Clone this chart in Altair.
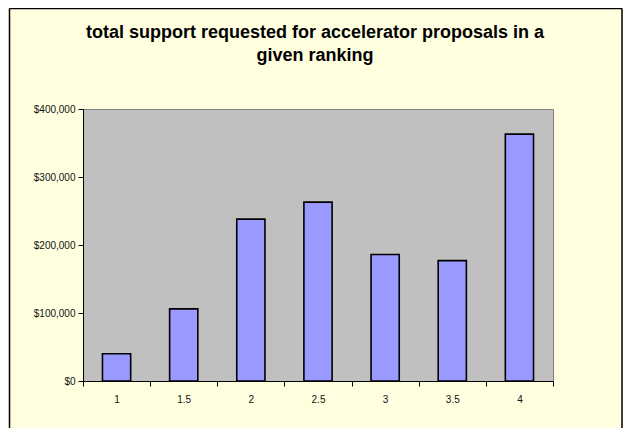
import altair as alt
import pandas as pd

rankings = ["1", "1.5", "2", "2.5", "3", "3.5", "4"]
support = [40000, 106000, 238000, 263000, 186000, 177000, 363000]
y_ticks = [0, 100000, 200000, 300000, 400000]

df = pd.DataFrame({"ranking": rankings, "support": support})

FONT = "Liberation Sans"

bars = alt.Chart(df).mark_bar(
    fill="#9999FF", stroke="#000000", strokeWidth=1.6,
    width=alt.RelativeBandSize(0.42)
).encode(
    x=alt.X("ranking:N", sort=rankings, title=None,
            scale=alt.Scale(paddingInner=0, paddingOuter=0),
            axis=alt.Axis(labelAngle=0, tickBand="extent", tickSize=5,
                          tickColor="#000000", domainColor="#000000",
                          labelFontSize=10, labelFont=FONT, labelColor="#111111",
                          labelPadding=8, grid=False)),
    y=alt.Y("support:Q", title=None,
            scale=alt.Scale(domain=[0, 400000], nice=False),
            axis=alt.Axis(values=y_ticks, format="$,.0f", tickSize=5,
                          tickColor="#000000", domainColor="#000000",
                          labelFontSize=10, labelFont=FONT, labelColor="#111111",
                          labelPadding=3, grid=False))
)

frame_data = alt.Data(values=[{"k": 0}])
left = alt.Chart(frame_data).mark_rule(color="#000000", strokeWidth=1.5).encode(
    x=alt.value(-73.5), y=alt.value(-100.5), y2=alt.value(330))
top = alt.Chart(frame_data).mark_rule(color="#000000", strokeWidth=1.5).encode(
    x=alt.value(-73.5), x2=alt.value(539), y=alt.value(-100.5))
right = alt.Chart(frame_data).mark_rule(color="#000000", strokeWidth=1.5).encode(
    x=alt.value(539), y=alt.value(-100.5), y2=alt.value(330))

chart = alt.layer(bars, left, top, right).properties(
    width=470, height=272,
    title=alt.TitleParams(
        ["total support requested for accelerator proposals in a", "given ranking"],
        anchor="middle", font=FONT, fontSize=18, fontWeight="bold",
        color="#000000", lineHeight=23, offset=-57, dx=-3),
    background="#FFFFE0",
    padding={"left": 75, "top": 101, "right": 70, "bottom": 47},
    autosize=alt.AutoSizeParams(type="none"),
).configure_view(
    fill="#C0C0C0", stroke="#808080", strokeWidth=1
)

chart.save("out.html", embed_options={"renderer": "svg", "actions": False})
